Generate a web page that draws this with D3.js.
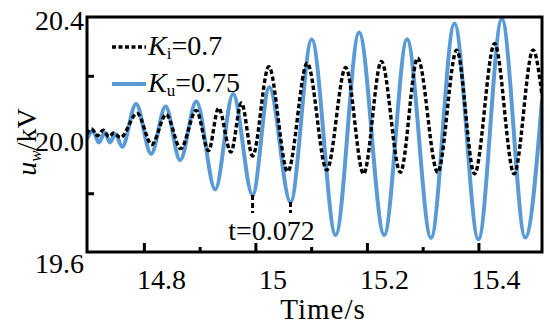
<!DOCTYPE html>
<html lang="en">
<head>
<meta charset="UTF-8">
<script src="https://d3js.org/d3.v7.min.js"></script>
</head>
<body style="margin:0">
<div id="chart"></div>
<script>

// turning points of each trace (time in s, voltage in kV)
const kuTime = [14.698, 14.709, 14.719, 14.730, 14.739, 14.749, 14.761, 14.786, 14.813, 14.839,
                14.865, 14.894, 14.928, 14.960, 14.995, 15.025, 15.063, 15.101, 15.144, 15.186,
                15.231, 15.272, 15.315, 15.357, 15.400, 15.442, 15.484, 15.514];
const kuVolt = [19.985, 20.013, 19.973, 20.007, 19.973, 20.002, 19.958, 20.104, 19.934, 20.095,
                19.913, 20.112, 19.813, 20.138, 19.794, 20.161, 19.770, 20.323, 19.658, 20.347,
                19.658, 20.324, 19.648, 20.378, 19.643, 20.393, 19.649, 20.116];

const kiTime = [14.698, 14.706, 14.717, 14.727, 14.737, 14.746, 14.758, 14.788, 14.814, 14.840,
                14.866, 14.894, 14.916, 14.934, 14.956, 14.975, 14.995, 15.024, 15.058, 15.093,
                15.128, 15.162, 15.194, 15.226, 15.260, 15.291, 15.327, 15.361, 15.393, 15.429,
                15.464, 15.498, 15.514];
const kiVolt = [20.002, 20.019, 19.996, 20.015, 19.993, 20.005, 19.990, 20.072, 19.966, 20.068,
                19.952, 20.082, 19.945, 20.090, 19.940, 20.107, 19.927, 20.231, 19.874, 20.243,
                19.879, 20.228, 19.866, 20.249, 19.871, 20.260, 19.871, 20.287, 19.866, 20.310,
                19.866, 20.288, 20.134];

// the two troughs marked by the t=0.072 note
const markTime = [14.995, 15.063];
const markTop = [19.794, 19.770];
const markBottom = 19.733;
const noteText = "t=0.072";

const xMajor = [14.8, 15, 15.2, 15.4];
const xMinor = [14.9, 15.1, 15.3];
const yMajor = [20.4, 20.0, 19.6];
const yMinor = [20.2, 19.8];

const W = 550, H = 325;
const margin = {left: 87, right: 8, top: 17, bottom: 73};

const blue = "#5b9bd5";
const serif = '"Liberation Serif"';

const svg = d3.select("#chart").append("svg")
    .attr("width", W)
    .attr("height", H);

const x = d3.scaleLinear([14.698, 15.514], [margin.left, W - margin.right]);
const y = d3.scaleLinear([19.6, 20.4], [H - margin.bottom, margin.top]);

svg.append("clipPath").attr("id", "plotClip")
  .append("rect")
    .attr("x", x.range()[0])
    .attr("y", y.range()[1])
    .attr("width", x.range()[1] - x.range()[0])
    .attr("height", y.range()[0] - y.range()[1]);

const line = d3.line()
    .x(d => x(d[0]))
    .y(d => y(d[1]))
    .curve(d3.curveMonotoneX);

const plot = svg.append("g").attr("clip-path", "url(#plotClip)");

plot.append("path")
    .datum(d3.zip(kuTime, kuVolt))
    .attr("d", line)
    .attr("fill", "none")
    .attr("stroke", blue)
    .attr("stroke-width", 4);

plot.append("path")
    .datum(d3.zip(kiTime, kiVolt))
    .attr("d", line)
    .attr("fill", "none")
    .attr("stroke", "#000")
    .attr("stroke-width", 3.4)
    .attr("stroke-dasharray", "4.5,2.5");

// trough markers
svg.selectAll(".mark")
  .data(d3.zip(markTime, markTop))
  .join("line")
    .attr("class", "mark")
    .attr("x1", d => x(d[0])).attr("x2", d => x(d[0]))
    .attr("y1", d => y(d[1])).attr("y2", y(markBottom))
    .attr("stroke", "#000")
    .attr("stroke-width", 3)
    .attr("stroke-dasharray", "5,3");

svg.append("text")
    .attr("x", x(d3.mean(markTime)))
    .attr("y", y(markBottom) + 27)
    .attr("text-anchor", "middle")
    .attr("font-size", 28)
    .style("font-family", serif)
    .text(noteText);

// x axis, ticks pointing inward
const gx = svg.append("g")
    .attr("transform", `translate(0,${y(19.6)})`)
    .call(d3.axisBottom(x).tickValues(xMajor).tickSizeInner(-9).tickSizeOuter(0).tickFormat(d => String(d)));
gx.select(".domain").remove();
gx.selectAll(".tick line").attr("stroke-width", 3);
gx.selectAll(".tick text")
    .attr("y", 37).attr("dy", 0).attr("dx", 17)
    .attr("fill", "#000")
    .attr("font-size", 28)
    .style("font-family", serif);

const gxm = svg.append("g")
    .attr("transform", `translate(0,${y(19.6)})`)
    .call(d3.axisBottom(x).tickValues(xMinor).tickSizeInner(-5).tickSizeOuter(0).tickFormat(""));
gxm.select(".domain").remove();
gxm.selectAll(".tick line").attr("stroke-width", 3);

// y axis
const gy = svg.append("g")
    .attr("transform", `translate(${x.range()[0]},0)`)
    .call(d3.axisLeft(y).tickValues(yMajor).tickSizeInner(0).tickSizeOuter(0).tickFormat(d3.format(".1f")));
gy.select(".domain").remove();
gy.selectAll(".tick text")
    .attr("x", -3)
    .attr("dy", 0)
    .attr("y", d => 12 + (20.4 - d) * 11)
    .attr("fill", "#000")
    .attr("font-size", 28)
    .style("font-family", serif);

const gym = svg.append("g")
    .attr("transform", `translate(${x.range()[0]},0)`)
    .call(d3.axisLeft(y).tickValues(yMinor).tickSizeInner(-7).tickSizeOuter(0).tickFormat(""));
gym.select(".domain").remove();
gym.selectAll(".tick line").attr("stroke-width", 3);

// frame
svg.append("rect")
    .attr("x", x.range()[0])
    .attr("y", y.range()[1])
    .attr("width", x.range()[1] - x.range()[0])
    .attr("height", y.range()[0] - y.range()[1])
    .attr("fill", "none")
    .attr("stroke", "#000")
    .attr("stroke-width", 3);

// axis titles
svg.append("text")
    .attr("x", 323)
    .attr("y", 319)
    .attr("text-anchor", "middle")
    .attr("font-size", 29)
    .attr("letter-spacing", 1)
    .style("font-family", serif)
    .text("Time/s");

const yt = svg.append("text")
    .attr("transform", "translate(36,142) rotate(-90)")
    .attr("text-anchor", "middle")
    .attr("font-size", 28)
    .style("font-family", serif);
yt.append("tspan").attr("font-style", "italic").text("u");
yt.append("tspan").attr("font-style", "italic").attr("font-size", 17).attr("dy", 5).text("w");
yt.append("tspan").attr("dy", -5).text("/kV");

// legend
const legendSub = ["i", "u"];
const legendVal = ["=0.7", "=0.75"];
const legendColor = ["#000", blue];
const legendDash = ["4,2.5", null];

const leg = svg.selectAll(".leg")
  .data(d3.range(2))
  .join("g")
    .attr("class", "leg")
    .attr("transform", i => `translate(112,${47 + i * 37})`);

leg.append("line")
    .attr("x1", 0).attr("x2", 34)
    .attr("stroke", i => legendColor[i])
    .attr("stroke-width", i => i ? 4 : 3.4)
    .attr("stroke-dasharray", i => legendDash[i]);

const lt = leg.append("text")
    .attr("x", 36)
    .attr("y", 8)
    .attr("font-size", 28)
    .style("font-family", serif);
lt.append("tspan").attr("font-style", "italic").text("K");
lt.append("tspan").attr("font-size", 17).attr("dy", 4).text(i => legendSub[i]);
lt.append("tspan").attr("dy", -4).text(i => legendVal[i]);

</script>
</body>
</html>
